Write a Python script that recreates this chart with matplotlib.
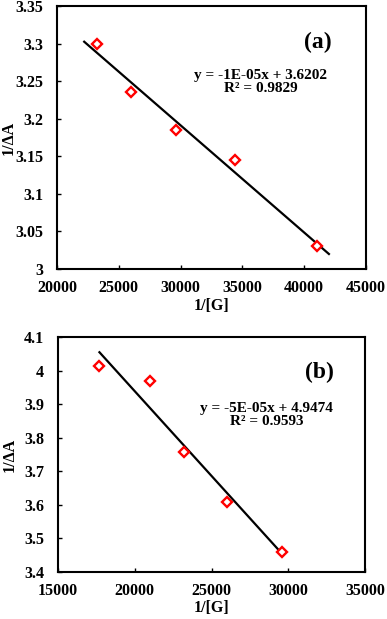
import matplotlib
matplotlib.use("Agg")
import matplotlib.pyplot as plt
import numpy as np

plt.rcParams['font.family'] = 'Liberation Serif'
plt.rcParams['font.weight'] = 'bold'

# data (a)
xa = [23200, 26000, 29600, 34400, 41000]
ya = [3.300, 3.236, 3.185, 3.145, 3.030]
line_a_x = [22200, 42000]
eq_a = "y = -1E-05x + 3.6202\nR² = 0.9829"

# data (b)
xb = [17700, 21000, 23200, 26000, 29600]
yb = [4.015, 3.968, 3.758, 3.610, 3.459]
line_b_x = [17700, 29600]
eq_b = "y = -5E-05x + 4.9474\nR² = 0.9593"

fig = plt.figure(figsize=(3.87, 6.19), dpi=100)
ax1 = fig.add_axes([57/387, 1-269/619, 309/387, 263/619])
ax2 = fig.add_axes([58/387, 1-572/619, 307/387, 235/619])


def draw(ax, x, y, lx, eq, tag, xlim, ylim, xticks, yticks, eqpos, tagpos, ylab_x):
    m, c = np.polyfit(x, y, 1)
    lx = np.array(lx)
    ax.plot(lx, m * lx + c, color='black', lw=1.6)
    ax.plot(x, y, ls='none', marker='D', ms=5.5, mfc='white', mec='red', mew=1.7)
    ax.set_xlim(*xlim)
    ax.set_ylim(*ylim)
    ax.set_xticks(xticks)
    ax.set_yticks(yticks)
    ax.set_yticklabels([('%.2f' % v).rstrip('0').rstrip('.') for v in yticks])
    ax.tick_params(direction='in', length=3, width=1, labelsize=11.5)
    ax.tick_params(axis='x', pad=8)
    ax.tick_params(axis='y', pad=10)
    for s in ax.spines.values():
        s.set_linewidth(1.5)
    ax.set_xlabel('1/[G]', fontsize=11.5, fontweight='bold', labelpad=1)
    ax.set_ylabel('1/ΔA', fontsize=11.5, fontweight='bold')
    ax.yaxis.set_label_coords(ylab_x, 0.5)
    ax.text(eqpos[0], eqpos[1], eq, transform=ax.transAxes, ha='center', va='top',
            fontsize=11, fontweight='bold', linespacing=1.0)
    ax.text(tagpos[0], tagpos[1], tag, transform=ax.transAxes, ha='right', va='center',
            fontsize=17, fontweight='bold')


draw(ax1, xa, ya, line_a_x, eq_a, '(a)', (20000, 45000), (3.0, 3.35),
     [20000, 25000, 30000, 35000, 40000, 45000],
     [3.0, 3.05, 3.1, 3.15, 3.2, 3.25, 3.3, 3.35], (0.66, 0.76), (0.89, 0.86), -0.13)
draw(ax2, xb, yb, line_b_x, eq_b, '(b)', (15000, 35000), (3.4, 4.1),
     [15000, 20000, 25000, 30000, 35000],
     [3.4, 3.5, 3.6, 3.7, 3.8, 3.9, 4.0, 4.1], (0.68, 0.725), (0.90, 0.85), -0.13)

fig.savefig('out.png', dpi=100)
